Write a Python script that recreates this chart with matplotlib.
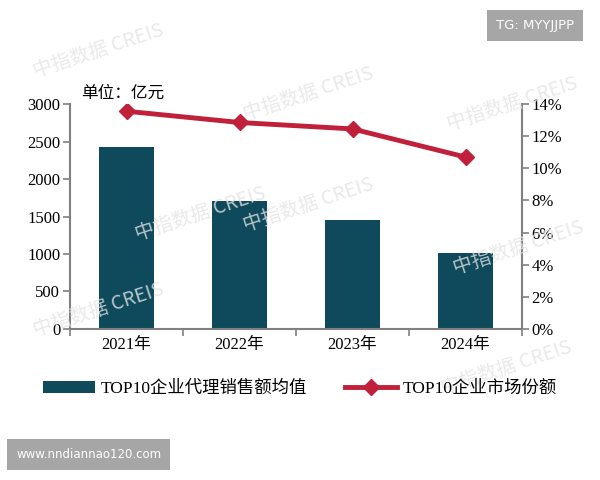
import matplotlib
matplotlib.use('Agg')
import matplotlib.pyplot as plt
import numpy as np

plt.rcParams['font.family'] = ['Liberation Serif', 'Noto Sans CJK SC', 'DejaVu Sans']

years = ['2021年', '2022年', '2023年', '2024年']
avg_sales = [2430, 1705, 1455, 1010]
share = [13.55, 12.85, 12.45, 10.7]

bar_color = '#0e4a5b'
line_color = '#c0203a'
spine_gray = '#808080'

fig = plt.figure(figsize=(6, 4.8), dpi=100)
ax = fig.add_axes([0.1167, 0.3146, 0.7533, 0.4687])
x = np.arange(len(years))
b = ax.bar(x, avg_sales, width=0.49, color=bar_color, label='TOP10企业代理销售额均值', zorder=2)
ax.set_xlim(-0.5, 3.5)
ax.set_ylim(0, 3000)
ax.set_yticks(range(0, 3001, 500))
ax.set_xticks(x)
ax.set_xticklabels(years, fontsize=12)
ax.set_xticks(np.arange(-0.5, 4, 1), minor=True)
ax.tick_params(axis='x', which='major', length=0, pad=6)
ax.tick_params(axis='x', which='minor', length=5, color=spine_gray, width=1.2)
ax.tick_params(axis='y', labelsize=12, color=spine_gray, length=5, width=1.2, pad=2)
for s in ['top', 'right']:
    ax.spines[s].set_visible(False)
for s in ['left', 'bottom']:
    ax.spines[s].set_color(spine_gray)
    ax.spines[s].set_linewidth(1.5)

ax2 = ax.twinx()
l, = ax2.plot(x, share, color=line_color, lw=3.5, marker='D', ms=8,
              label='TOP10企业市场份额', zorder=3)
ax2.set_ylim(0, 14)
ax2.set_yticks(range(0, 15, 2))
ax2.set_yticklabels([f'{v}%' for v in range(0, 15, 2)])
ax2.tick_params(axis='y', labelsize=12, color=spine_gray, length=5, width=1.2, pad=2)
for s in ['top', 'left', 'bottom']:
    ax2.spines[s].set_visible(False)
ax2.spines['right'].set_color(spine_gray)
ax2.spines['right'].set_linewidth(1.5)

fig.text(0.135, 0.805, '单位：亿元', fontsize=12, family=['Noto Sans CJK SC'], va='center')

fig.legend([b, l], ['TOP10企业代理销售额均值', 'TOP10企业市场份额'],
           loc='center', bbox_to_anchor=(0.5, 0.19), ncol=2, frameon=False,
           fontsize=12.5, handlelength=3, columnspacing=2.2, handletextpad=0.3)

# watermarks
wm = [(0.05, 0.84), (0.40, 0.75), (0.74, 0.73), (0.40, 0.52), (0.75, 0.43),
      (0.05, 0.30), (0.73, 0.18), (0.22, 0.50)]
for wx, wy in wm:
    fig.text(wx, wy, '中指数据 CREIS', fontsize=14, color='#e4e4e4', alpha=0.8,
             rotation=18, family=['Noto Sans CJK SC', 'DejaVu Sans'], zorder=0)

fig.text(0.892, 0.947, 'TG: MYYJJPP', fontsize=9.5, color='white', ha='center', va='center',
         family='DejaVu Sans',
         bbox=dict(boxstyle='square,pad=0.7', fc='#a6a6a6', ec='none'))
fig.text(0.148, 0.0525, 'www.nndiannao120.com', fontsize=8.5, color='white', ha='center',
         va='center', family='DejaVu Sans',
         bbox=dict(boxstyle='square,pad=0.75', fc='#a6a6a6', ec='none'))

fig.savefig('out.png', dpi=100)
